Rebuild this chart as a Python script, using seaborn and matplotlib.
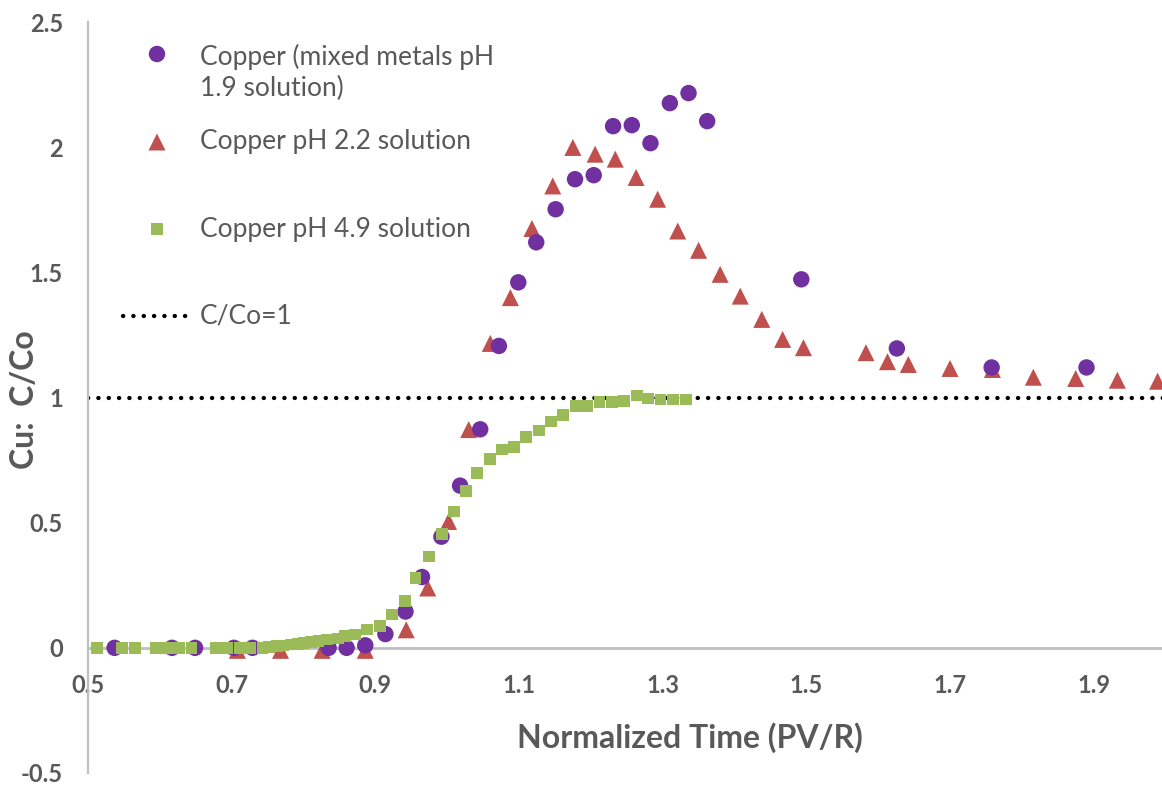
import numpy as np
import pandas as pd
import matplotlib
matplotlib.use("Agg")
import matplotlib.pyplot as plt
import seaborn as sns

# ---------------- data ----------------
mixed_x = [0.537, 0.617, 0.649, 0.703, 0.729, 0.835, 0.860, 0.886, 0.914, 0.942,
           0.965, 0.992, 1.018, 1.046, 1.072, 1.099, 1.124, 1.151, 1.178, 1.204,
           1.231, 1.257, 1.283, 1.310, 1.336, 1.362, 1.493, 1.626, 1.758, 1.890]
mixed_y = [0.0, 0.0, 0.0, 0.0, 0.0, 0.0, 0.0, 0.01, 0.055, 0.145,
           0.283, 0.444, 0.648, 0.873, 1.206, 1.46, 1.62, 1.752, 1.872, 1.888,
           2.084, 2.088, 2.016, 2.176, 2.216, 2.104, 1.472, 1.196, 1.12, 1.12]

ph22_x = [0.708, 0.768, 0.826, 0.886, 0.943, 0.973, 1.002, 1.030, 1.060, 1.088,
          1.118, 1.147, 1.175, 1.206, 1.234, 1.263, 1.293, 1.321, 1.350, 1.380,
          1.408, 1.438, 1.467, 1.496, 1.583, 1.613, 1.642, 1.700, 1.759, 1.816,
          1.875, 1.933, 1.989]
ph22_y = [-0.01, -0.01, -0.01, -0.01, 0.072, 0.239, 0.505, 0.872, 1.216, 1.399,
          1.675, 1.845, 1.999, 1.972, 1.952, 1.879, 1.792, 1.665, 1.588, 1.492,
          1.405, 1.312, 1.232, 1.199, 1.179, 1.143, 1.132, 1.116, 1.112, 1.081,
          1.076, 1.069, 1.065]

ph49_x = [0.513, 0.547, 0.565, 0.594, 0.610, 0.627, 0.644, 0.678, 0.694, 0.712,
          0.725, 0.743, 0.752, 0.763, 0.772, 0.782, 0.792, 0.800, 0.810, 0.821,
          0.833, 0.848, 0.858, 0.872, 0.888, 0.907, 0.923, 0.941, 0.956, 0.975,
          0.993, 1.009, 1.026, 1.042, 1.060, 1.076, 1.093, 1.110, 1.128, 1.145,
          1.161, 1.179, 1.195, 1.212, 1.229, 1.246, 1.264, 1.280, 1.297, 1.314,
          1.332]
ph49_y = [0.0, 0.0, 0.0, 0.0, 0.0, 0.0, 0.0, 0.0, 0.0, 0.0,
          0.0, 0.0, 0.004, 0.007, 0.009, 0.013, 0.016, 0.02, 0.023, 0.027,
          0.033, 0.037, 0.047, 0.053, 0.073, 0.087, 0.133, 0.187, 0.28, 0.365,
          0.455, 0.545, 0.628, 0.699, 0.755, 0.792, 0.801, 0.843, 0.868, 0.904,
          0.931, 0.965, 0.965, 0.981, 0.981, 0.985, 1.008, 0.996, 0.992, 0.992,
          0.992]

reference_level = 1.0

series_labels = ["Copper (mixed metals pH\n1.9 solution)",
                 "Copper pH 2.2 solution",
                 "Copper pH 4.9 solution"]
reference_label = "C/Co=1"

x_ticks = [0.5, 0.7, 0.9, 1.1, 1.3, 1.5, 1.7, 1.9]
x_tick_labels = ["0.5", "0.7", "0.9", "1.1", "1.3", "1.5", "1.7", "1.9"]
y_ticks = [-0.5, 0, 0.5, 1, 1.5, 2, 2.5]
y_tick_labels = ["-0.5", "0", "0.5", "1", "1.5", "2", "2.5"]

x_title = "Normalized Time (PV/R)"
y_title = "Cu:  C/Co"

# ---------------- style ----------------
sns.set_theme(style="white")
plt.rcParams["font.family"] = ["Lato", "DejaVu Sans"]

PURPLE = "#7030A0"
RED = "#C0504D"
GREEN = "#9BBB59"
TEXT = "#595959"
AXIS = "#BFBFBF"

W, H = 1162, 785
fig = plt.figure(figsize=(W / 100, H / 100), dpi=100)
ax_left, ax_right, ax_top, ax_bottom = 88, 1165.5, 22, 773
ax = fig.add_axes([ax_left / W, (H - ax_bottom) / H,
                   (ax_right - ax_left) / W, (ax_bottom - ax_top) / H])

df_mixed = pd.DataFrame({"x": mixed_x, "y": mixed_y})
df_22 = pd.DataFrame({"x": ph22_x, "y": ph22_y})
df_49 = pd.DataFrame({"x": ph49_x, "y": ph49_y})

dot_style = dict(color="black", linewidth=3.1, linestyle=(0, (0.05, 2.35)),
                 dash_capstyle="round")
ax.axhline(reference_level, zorder=1, **dot_style)

sns.scatterplot(data=df_22, x="x", y="y", ax=ax, marker="^", s=150,
                color=RED, edgecolor="none", linewidth=0, zorder=3)
sns.scatterplot(data=df_mixed, x="x", y="y", ax=ax, marker="o", s=140,
                color=PURPLE, edgecolor="none", linewidth=0, zorder=4)
sns.scatterplot(data=df_49, x="x", y="y", ax=ax, marker="s", s=72,
                color=GREEN, edgecolor="none", linewidth=0, zorder=5)

ax.set_xlim(0.5, 2.0)
ax.set_ylim(-0.5, 2.5)

# axes appearance
for side in ["top", "right"]:
    ax.spines[side].set_visible(False)
ax.spines["left"].set_color(AXIS)
ax.spines["left"].set_linewidth(1.6)
ax.spines["bottom"].set_position(("data", 0))
ax.spines["bottom"].set_color(AXIS)
ax.spines["bottom"].set_linewidth(2.0)
ax.spines["bottom"].set_zorder(2)

ax.set_xticks(x_ticks)
ax.set_xticklabels(x_tick_labels)
ax.set_yticks(y_ticks)
ax.set_yticklabels(y_tick_labels)
ax.tick_params(axis="both", length=0, colors=TEXT, labelsize=17)
ax.tick_params(axis="x", pad=19)
ax.tick_params(axis="y", pad=18)
for lbl in ax.get_xticklabels() + ax.get_yticklabels():
    lbl.set_fontweight("bold")
ax.grid(False)

ax.set_xlabel(x_title, fontsize=23, fontweight="bold", color=TEXT)
ax.set_ylabel(y_title, fontsize=23, fontweight="bold", color=TEXT)
ax.xaxis.set_label_coords((690 - ax_left) / (ax_right - ax_left),
                          (ax_bottom - 738) / (ax_bottom - ax_top))
ax.xaxis.label.set_va("center")
ax.yaxis.set_label_coords((25 - ax_left) / (ax_right - ax_left),
                          (ax_bottom - 400) / (ax_bottom - ax_top))
ax.yaxis.label.set_va("center")


# ---------------- legend (drawn in axes coordinates) ----------------
def fx(px):
    return (px - ax_left) / (ax_right - ax_left)


def fy(py):
    return (ax_bottom - py) / (ax_bottom - ax_top)


leg_fs = 19
mk_x = fx(157)
txt_x = fx(200)
ax.scatter([mk_x], [fy(54)], transform=ax.transAxes, marker="o", s=140,
           color=PURPLE, edgecolor="none", clip_on=False, zorder=6)
ax.text(txt_x, fy(72.5), series_labels[0], transform=ax.transAxes,
        ha="left", va="center", fontsize=leg_fs, color=TEXT, linespacing=1.3)
ax.scatter([mk_x], [fy(142)], transform=ax.transAxes, marker="^", s=150,
           color=RED, edgecolor="none", clip_on=False, zorder=6)
ax.text(txt_x, fy(142), series_labels[1], transform=ax.transAxes,
        ha="left", va="center", fontsize=leg_fs, color=TEXT)
ax.scatter([mk_x], [fy(229)], transform=ax.transAxes, marker="s", s=72,
           color=GREEN, edgecolor="none", clip_on=False, zorder=6)
ax.text(txt_x, fy(229), series_labels[2], transform=ax.transAxes,
        ha="left", va="center", fontsize=leg_fs, color=TEXT)
ax.plot([fx(123), fx(188)], [fy(316), fy(316)], transform=ax.transAxes,
        **dot_style)
ax.text(txt_x, fy(316), reference_label, transform=ax.transAxes,
        ha="left", va="center", fontsize=leg_fs, color=TEXT)

fig.savefig("out.png", dpi=100)
